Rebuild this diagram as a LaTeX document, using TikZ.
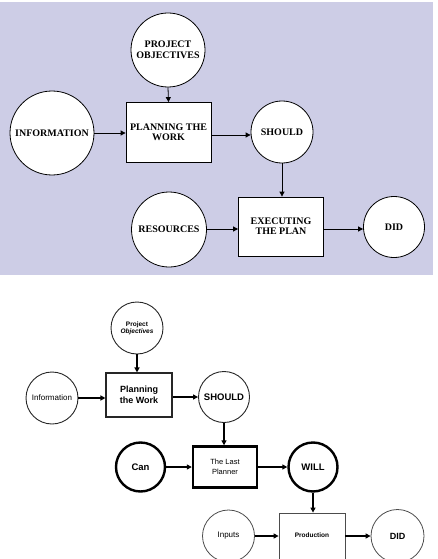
\documentclass[tikz,border=0pt]{standalone}
\usepackage{fontspec}
\setmainfont{Liberation Serif}
\newfontfamily\arialf{Liberation Sans}
\usetikzlibrary{arrows.meta}
\definecolor{lav}{RGB}{205,205,230}
\tikzset{
  x=1pt,y=-1pt,
  topcirc/.style={circle,draw=black,fill=white,line width=0.8pt,inner sep=0pt,align=center,font=\bfseries\fontsize{10}{10}\selectfont},
  topbox/.style={rectangle,draw=black,fill=white,line width=0.8pt,inner sep=0pt,align=center,font=\bfseries\fontsize{10}{10}\selectfont},
  toparr/.style={draw=black,line width=0.8pt,-{Triangle[length=5pt,width=5pt]}},
  botcirc/.style={circle,draw=black!85,fill=white,line width=0.9pt,inner sep=0pt,align=center},
  botbox/.style={rectangle,draw=black!85,fill=white,line width=1.1pt,inner sep=0pt,align=center},
  thickshape/.style={line width=2.4pt,draw=black},
  lightshape/.style={draw=black!70,line width=0.8pt},
  botarr/.style={draw=black,line width=1.4pt,-{Triangle[length=5pt,width=5pt]}}
}
\begin{document}
\begin{tikzpicture}
\useasboundingbox (0,0) rectangle (437,559);
\fill[lav] (0,2) rectangle (433,275);
% top panel
\node[topcirc,minimum size=74pt] (po) at (168,50) {PROJECT\\[1pt]OBJECTIVES};
\node[topcirc,minimum size=84pt] (info) at (52,133) {INFORMATION};
\node[topbox,minimum width=85pt,minimum height=60pt] (plan) at (168.5,132.5) {PLANNING THE\\WORK};
\node[topcirc,minimum size=62pt] (should) at (282,132) {SHOULD};
\node[topcirc,minimum size=75pt] (res) at (169,229.5) {RESOURCES};
\node[topbox,minimum width=85pt,minimum height=59pt] (exec) at (281,226.5) {EXECUTING\\THE PLAN};
\node[topcirc,minimum size=61pt] (did) at (394,227) {DID};
\draw[toparr] (po.south) -- (plan.north);
\draw[toparr] (info.east) -- (info.east -| plan.west);
\draw[toparr] (plan.east |- 0,135) -- (should.west |- 0,135);
\draw[toparr] (should.south) -- (should.south |- exec.north);
\draw[toparr] (res.east |- 0,229) -- (exec.west |- 0,229);
\draw[toparr] (exec.east |- 0,229) -- (did.west |- 0,229);
% bottom panel
\node[botcirc,minimum size=52pt,font=\arialf\bfseries\fontsize{6.5}{7}\selectfont] (po2) at (137,328) {Project\\\itshape Objectives};
\node[botcirc,minimum size=52pt,font=\arialf\fontsize{8}{8}\selectfont] (info2) at (52,398) {Information};
\node[botbox,minimum width=66pt,minimum height=44pt,font=\arialf\bfseries\fontsize{9}{11}\selectfont] (plan2) at (139,395) {Planning\\the Work};
\node[botcirc,minimum size=51pt,font=\arialf\bfseries\fontsize{9.5}{10}\selectfont] (should2) at (224,397) {SHOULD};
\node[botcirc,thickshape,minimum size=49pt,font=\arialf\bfseries\fontsize{9.5}{10}\selectfont] (can) at (140.5,467) {Can};
\node[botbox,thickshape,minimum width=64pt,minimum height=41pt,font=\arialf\fontsize{7.5}{10}\selectfont] (lp) at (225,467) {The Last\\Planner};
\node[botcirc,thickshape,minimum size=49pt,font=\arialf\bfseries\fontsize{9.5}{10}\selectfont] (will) at (313,467) {WILL};
\node[botcirc,lightshape,minimum size=52pt,font=\arialf\fontsize{8}{8}\selectfont] (inp) at (228.5,536) {Inputs};
\node[botbox,lightshape,minimum width=66pt,minimum height=56pt,label={[font=\arialf\bfseries\fontsize{6.5}{7}\selectfont,yshift=6pt]center:Production}] (prod) at (312,541) {};
\node[botcirc,lightshape,minimum size=53pt,font=\arialf\bfseries\fontsize{9}{10}\selectfont] (did2) at (397.5,536) {DID};
\draw[botarr] (po2.south) -- (po2.south |- plan2.north);
\draw[botarr] (info2.east) -- (info2.east -| plan2.west);
\draw[botarr] (plan2.east |- should2.west) -- (should2.west);
\draw[botarr] (should2.south) -- (should2.south |- lp.north);
\draw[botarr] (can.east) -- (can.east -| lp.west);
\draw[botarr] (lp.east |- will.west) -- (will.west);
\draw[botarr] (will.south) -- (will.south |- prod.north);
\draw[botarr] (inp.east) -- (inp.east -| prod.west);
\draw[botarr] (prod.east |- did2.west) -- (did2.west);
\end{tikzpicture}
\end{document}
